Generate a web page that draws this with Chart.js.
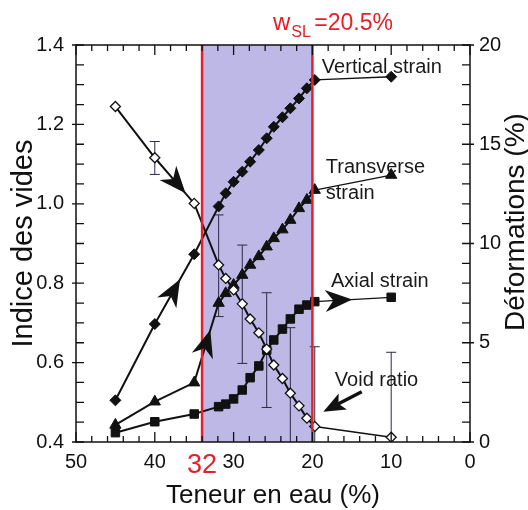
<!DOCTYPE html>
<html>
<head>
<meta charset="utf-8">
<script src="https://cdn.jsdelivr.net/npm/chart.js@4.4.0/dist/chart.umd.min.js"></script>
<style>
  html, body { margin: 0; padding: 0; background: #fff; }
</style>
</head>
<body>
<canvas id="chart" width="528" height="510"></canvas>
<script>
// water content (%) for every measured state
var waterContent     = [45, 40, 35, 31.9, 31.0, 30.0, 28.9, 27.9, 26.8, 25.8, 24.9, 23.8, 22.8, 21.7, 20.7, 19.7, 10];
var voidRatio        = [1.245, 1.116, 1.001, 0.846, 0.812, 0.783, 0.748, 0.710, 0.675, 0.634, 0.594, 0.560, 0.523, 0.491, 0.460, 0.439, 0.412];
var voidErrLow       = [null, 1.074, null, 0.716, null, null, 0.598, null, null, 0.487, null, null, 0.358, null, null, 0.24, 0.20];
var voidErrHigh      = [null, 1.157, null, 0.972, null, null, 0.896, null, null, 0.776, null, null, 0.688, null, null, 0.64, 0.626];
var verticalStrain   = [2.1, 5.94, 9.46, 11.87, 12.53, 13.11, 13.62, 14.12, 14.71, 15.30, 15.88, 16.36, 16.81, 17.31, 17.82, 18.24, 18.4];
var transverseStrain = [0.86, 2.03, 2.99, 7.0, 7.49, 7.91, 8.41, 8.92, 9.35, 9.84, 10.26, 10.7, 11.18, 11.77, 12.19, 12.69, 13.45];
var axialStrain      = [0.47, 1.02, 1.41, 1.78, 1.91, 2.17, 2.62, 3.24, 3.83, 4.63, 5.14, 5.69, 6.20, 6.69, 6.90, 7.07, 7.29];

var xTicks = [50, 40, 30, 20, 10, 0];
var leftTicks = [0.4, 0.6, 0.8, 1.0, 1.2, 1.4];
var rightTicks = [0, 5, 10, 15, 20];

var shrinkStart = 34;   // left red line (labelled 32)
var shrinkLimit = 20;   // right red line
var shrinkLabel = '32';

var FONT = '"Liberation Sans", Arial, sans-serif';

function pts(ys) {
    return waterContent.map(function(x, i) { return { x: x, y: ys[i] }; });
}

function thinTail(ctx) {
    return ctx.p1.parsed.x <= 10.5 ? 1.3 : 2;
}

function arrowHead(ctx, x, y, angle, len, half, notch) {
    ctx.save();
    ctx.translate(x, y);
    ctx.rotate(angle);
    ctx.beginPath();
    ctx.moveTo(0, 0);
    ctx.lineTo(-len, -half);
    ctx.lineTo(-len + notch, 0);
    ctx.lineTo(-len, half);
    ctx.closePath();
    ctx.fill();
    ctx.restore();
}

// arrows sitting on the curves: dataset index, segment start, position along it, direction
var lineArrows = [
    { ds: 0, from: 1, t: 0.78, dir: 1 },
    { ds: 1, from: 1, t: 0.64, dir: 1 },
    { ds: 2, from: 2, t: 0.66, dir: 1 },
    { ds: 3, from: 15, t: 0.49, dir: 1 }
];

var labels = [
    { text: 'Vertical strain', x: 18.8, y: 18.85 },
    { text: 'Transverse', x: 18.3, y: 13.85 },
    { text: 'strain', x: 18.3, y: 12.54 },
    { text: 'Axial strain', x: 17.65, y: 8.11 },
    { text: 'Void ratio', x: 17.15, y: 3.12 }
];

var decor = {
    id: 'decor',
    beforeDatasetsDraw: function(chart) {
        var ctx = chart.ctx, a = chart.chartArea;
        var xs = chart.scales.x, yl = chart.scales.y;
        var x1 = xs.getPixelForValue(shrinkStart), x2 = xs.getPixelForValue(shrinkLimit);
        ctx.save();
        ctx.fillStyle = '#bdb8e5';
        ctx.fillRect(x1, a.top, x2 - x1, a.bottom - a.top);

        // error bars of the void ratio
        ctx.beginPath();
        ctx.rect(a.left, a.top, a.right - a.left, a.bottom - a.top);
        ctx.clip();
        ctx.strokeStyle = '#2a2a48';
        ctx.lineWidth = 1;
        waterContent.forEach(function(w, i) {
            if (voidErrHigh[i] === null) return;
            var px = xs.getPixelForValue(w);
            var top = yl.getPixelForValue(voidErrHigh[i]);
            var bot = yl.getPixelForValue(voidErrLow[i]);
            ctx.beginPath();
            ctx.moveTo(px, top); ctx.lineTo(px, bot);
            ctx.moveTo(px - 5, top); ctx.lineTo(px + 5, top);
            ctx.moveTo(px - 5, bot); ctx.lineTo(px + 5, bot);
            ctx.stroke();
        });
        ctx.restore();
    },
    afterDatasetsDraw: function(chart) {
        var ctx = chart.ctx, a = chart.chartArea;
        var xs = chart.scales.x, yl = chart.scales.y, yr = chart.scales.y2;
        ctx.save();

        // red limits
        ctx.strokeStyle = '#e5202a';
        ctx.lineWidth = 2.5;
        [shrinkStart, shrinkLimit].forEach(function(v) {
            var px = xs.getPixelForValue(v);
            ctx.beginPath(); ctx.moveTo(px, a.top); ctx.lineTo(px, a.bottom); ctx.stroke();
        });

        // frame
        ctx.strokeStyle = '#111';
        ctx.lineWidth = 1.5;
        ctx.strokeRect(a.left, a.top, a.right - a.left, a.bottom - a.top);

        // inward ticks
        ctx.lineWidth = 1.3;
        ctx.beginPath();
        for (var v = 0; v <= 50; v += 2) {
            var px = xs.getPixelForValue(v);
            var len = v % 10 === 0 ? 10 : 6;
            ctx.moveTo(px, a.bottom); ctx.lineTo(px, a.bottom - len);
            ctx.moveTo(px, a.top); ctx.lineTo(px, a.top + len);
        }
        for (var k = 0; k <= 20; k++) {
            var py = yl.getPixelForValue(0.4 + k * 0.05);
            var major = k % 4 === 0;
            ctx.moveTo(a.left - (major ? 4 : 0), py); ctx.lineTo(a.left + 8, py);
            var pr = yr.getPixelForValue(k);
            var majorR = k % 5 === 0;
            ctx.moveTo(a.right + (majorR ? 4 : 0), pr); ctx.lineTo(a.right - 8, pr);
        }
        ctx.stroke();

        // arrows on the curves
        ctx.fillStyle = '#111';
        lineArrows.forEach(function(ar) {
            var d = chart.getDatasetMeta(ar.ds).data;
            var p0 = d[ar.from], p1 = d[ar.from + 1];
            var tx = p0.x + (p1.x - p0.x) * ar.t, ty = p0.y + (p1.y - p0.y) * ar.t;
            var ang = Math.atan2(p1.y - p0.y, p1.x - p0.x) + (ar.dir < 0 ? Math.PI : 0);
            arrowHead(ctx, tx, ty, ang, 27, 11, 8);
        });

        // callout arrow for the void ratio
        var ax0 = xs.getPixelForValue(13.74), ay0 = yr.getPixelForValue(2.53);
        var ax1 = xs.getPixelForValue(18.62), ay1 = yr.getPixelForValue(1.53);
        var cang = Math.atan2(ay1 - ay0, ax1 - ax0);
        ctx.strokeStyle = '#111';
        ctx.lineWidth = 3.5;
        ctx.beginPath(); ctx.moveTo(ax0, ay0);
        ctx.lineTo(ax1 - Math.cos(cang) * 15, ay1 - Math.sin(cang) * 15); ctx.stroke();
        arrowHead(ctx, ax1, ay1, cang, 22, 9, 5);

        // series labels
        ctx.font = '20px ' + FONT;
        ctx.textBaseline = 'middle';
        ctx.textAlign = 'left';
        ctx.fillStyle = '#1a1a1a';
        labels.forEach(function(l) {
            ctx.fillText(l.text, xs.getPixelForValue(l.x), yr.getPixelForValue(l.y));
        });
        ctx.restore();
    },
    afterDraw: function(chart) {
        var ctx = chart.ctx, a = chart.chartArea, xs = chart.scales.x;
        ctx.save();
        ctx.fillStyle = '#e5202a';
        ctx.textBaseline = 'alphabetic';
        ctx.textAlign = 'center';
        ctx.font = '27px ' + FONT;
        ctx.fillText(shrinkLabel, xs.getPixelForValue(shrinkStart), 473);

        // w_SL annotation
        ctx.textAlign = 'left';
        var wx = xs.getPixelForValue(25);
        ctx.font = '24px ' + FONT;
        ctx.fillText('w', wx, 30);
        var ww = ctx.measureText('w').width;
        ctx.font = '16px ' + FONT;
        ctx.fillText('SL', wx + ww + 1, 37);
        var sw = ctx.measureText('SL').width;
        ctx.font = '23px ' + FONT;
        ctx.fillText(' =20.5%', wx + ww + sw - 2, 30);

        // right axis title, reading upwards
        ctx.fillStyle = '#111';
        ctx.font = '28px ' + FONT;
        ctx.textAlign = 'center';
        ctx.textBaseline = 'middle';
        ctx.translate(516, 222);
        ctx.rotate(-Math.PI / 2);
        ctx.fillText('Déformations (%)', 0, 0);
        ctx.restore();
    }
};

function fixTicks(list) {
    return function(scale) {
        scale.ticks = list.map(function(v) { return { value: v }; });
    };
}

var ds = [
    {
        label: 'Void ratio', data: pts(voidRatio), yAxisID: 'y',
        borderColor: '#111', borderWidth: 1.8,
        pointStyle: 'rectRot', pointRadius: 5, pointBorderWidth: 1.3,
        pointBackgroundColor: '#fff', pointBorderColor: '#111',
        segment: { borderWidth: thinTail }
    },
    {
        label: 'Vertical strain', data: pts(verticalStrain), yAxisID: 'y2',
        borderColor: '#111', borderWidth: 2,
        pointStyle: 'rectRot', pointRadius: 5.5, pointBorderWidth: 1,
        pointBackgroundColor: '#111', pointBorderColor: '#111',
        segment: { borderWidth: thinTail }
    },
    {
        label: 'Transverse strain', data: pts(transverseStrain), yAxisID: 'y2',
        borderColor: '#111', borderWidth: 2,
        pointStyle: 'triangle', pointRadius: 6.5, pointBorderWidth: 1,
        pointBackgroundColor: '#111', pointBorderColor: '#111',
        segment: { borderWidth: thinTail }
    },
    {
        label: 'Axial strain', data: pts(axialStrain), yAxisID: 'y2',
        borderColor: '#111', borderWidth: 2,
        pointStyle: 'rect', pointRadius: 6, pointBorderWidth: 1,
        pointBackgroundColor: '#111', pointBorderColor: '#111',
        segment: { borderWidth: thinTail }
    }
];

new Chart(document.getElementById('chart'), {
    type: 'line',
    data: { datasets: ds },
    options: {
        responsive: false,
        animation: false,
        layout: { padding: { top: 45, left: 0, right: 0, bottom: 0 } },
        plugins: { legend: { display: false }, tooltip: { enabled: false } },
        elements: { line: { tension: 0, fill: false } },
        scales: {
            x: {
                type: 'linear', reverse: true, min: 0, max: 50,
                afterBuildTicks: fixTicks(xTicks),
                afterFit: function(s) { s.height = 68; },
                grid: { display: false, drawTicks: false },
                border: { display: false },
                ticks: { padding: 8, color: '#111', font: { family: FONT, size: 20 } },
                title: {
                    display: true, text: 'Teneur en eau (%)', color: '#111',
                    font: { family: FONT, size: 26, lineHeight: 1 }, padding: { top: 0, bottom: 1 }
                }
            },
            y: {
                position: 'left', min: 0.4, max: 1.4,
                afterBuildTicks: fixTicks(leftTicks),
                afterFit: function(s) { s.width = 76; },
                grid: { display: false, drawTicks: false },
                border: { display: false },
                ticks: {
                    padding: 12, color: '#111', font: { family: FONT, size: 20 },
                    callback: function(v) { return v.toFixed(1); }
                },
                title: {
                    display: true, text: 'Indice des vides', color: '#111',
                    font: { family: FONT, size: 29, lineHeight: 1 }, padding: { top: 9, bottom: 0 }
                }
            },
            y2: {
                position: 'right', min: 0, max: 20,
                afterBuildTicks: fixTicks(rightTicks),
                afterFit: function(s) { s.width = 58; },
                grid: { display: false, drawTicks: false },
                border: { display: false },
                ticks: { padding: 9, color: '#111', font: { family: FONT, size: 20 } }
            }
        }
    },
    plugins: [decor]
});
</script>
</body>
</html>
